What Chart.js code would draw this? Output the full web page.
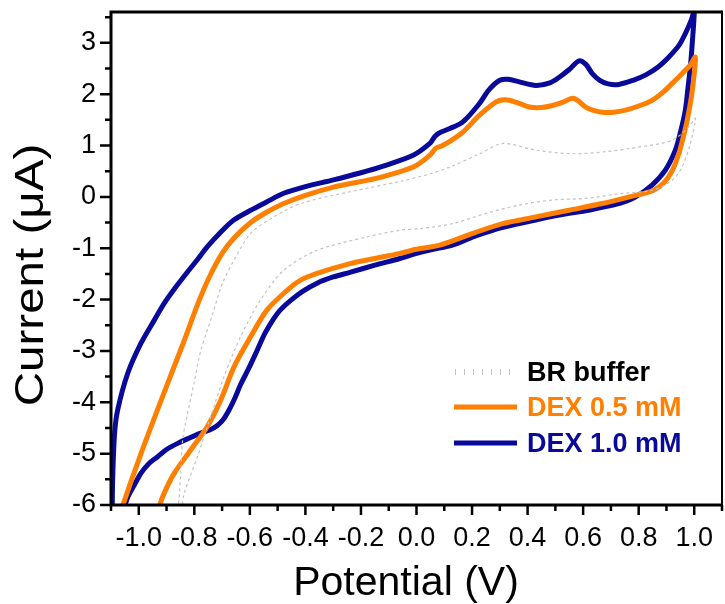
<!DOCTYPE html>
<html>
<head>
<meta charset="utf-8">
<title>Cyclic voltammetry of DEX</title>
<script src="https://cdn.jsdelivr.net/npm/chart.js@4.4.1/dist/chart.umd.min.js"></script>
<style>
    html, body { margin: 0; padding: 0; background: #ffffff; }
    #wrap { width: 725px; height: 604px; }
</style>
</head>
<body>
<div id="wrap"><canvas id="cvChart" width="725" height="604"></canvas></div>
<script>
// Cyclic voltammograms: BR buffer blank, DEX 0.5 mM and DEX 1.0 mM

// BR buffer (forward sweep, then reverse sweep)
const bufferPotential = [
    -0.86, -0.85, -0.842, -0.824, -0.80, -0.777, -0.735, -0.70, -0.657, -0.597,
    -0.514, -0.418, -0.239, -0.06, 0.05, 0.12, 0.227, 0.31, 0.43, 0.561,
    0.681, 0.8, 0.92, 0.98, 1.004,
    0.986, 0.956, 0.92, 0.848, 0.729, 0.609, 0.49, 0.37, 0.251, 0.131,
    0.012, -0.06, -0.179, -0.358, -0.478, -0.562, -0.633, -0.693, -0.741, -0.789,
    -0.836, -0.85
];
const bufferCurrent = [
    -6.2, -5.5, -4.73, -4.21, -3.6, -3.0, -2.3, -1.7, -1.23, -0.71,
    -0.39, -0.13, 0.1, 0.3, 0.45, 0.58, 0.84, 1.04, 0.91, 0.84,
    0.88, 0.97, 1.1, 1.36, 1.53,
    1.04, 0.58, 0.32, 0.13, 0.06, -0.03, -0.06, -0.16, -0.32, -0.52,
    -0.62, -0.65, -0.78, -1.04, -1.43, -2.01, -2.72, -3.5, -4.28, -5.06,
    -5.77, -6.2
];

// DEX 0.5 mM
const dex05Potential = [
    -1.07, -1.057, -0.992, -0.896, -0.84, -0.785, -0.745, -0.70, -0.657, -0.597,
    -0.54, -0.478, -0.40, -0.299, -0.2, -0.13, -0.012, 0.048, 0.07, 0.09,
    0.12, 0.167, 0.227, 0.287, 0.32, 0.36, 0.406, 0.45, 0.49, 0.53,
    0.561, 0.58, 0.609, 0.64, 0.669, 0.71, 0.753, 0.8, 0.848, 0.89,
    0.932, 0.965, 0.985, 1.004,
    0.998, 0.99, 0.975, 0.96, 0.945, 0.92, 0.89, 0.85, 0.789, 0.669,
    0.549, 0.43, 0.31, 0.203, 0.084, 0.0, -0.06, -0.15, -0.239, -0.358,
    -0.42, -0.466, -0.538, -0.597, -0.657, -0.705, -0.753, -0.813, -0.872, -0.914,
    -0.935
];
const dex05Current = [
    -6.25, -6.0, -5.0, -3.63, -2.85, -2.05, -1.55, -1.1, -0.8, -0.5,
    -0.3, -0.13, 0.03, 0.19, 0.3, 0.38, 0.58, 0.81, 0.95, 0.99,
    1.08, 1.26, 1.59, 1.85, 1.89, 1.84, 1.75, 1.74, 1.78, 1.85,
    1.92, 1.88, 1.75, 1.68, 1.65, 1.65, 1.69, 1.77, 1.88, 2.05,
    2.27, 2.45, 2.56, 2.72,
    2.3, 1.95, 1.5, 1.15, 0.85, 0.5, 0.27, 0.12, 0.03, -0.13,
    -0.26, -0.39, -0.52, -0.71, -0.94, -1.02, -1.1, -1.2, -1.3, -1.49,
    -1.63, -1.82, -2.2, -2.72, -3.31, -3.96, -4.47, -4.93, -5.38, -5.84,
    -6.2
];

// DEX 1.0 mM
const dex10Potential = [
    -1.096, -1.094, -1.087, -1.076, -1.04, -0.992, -0.944, -0.908, -0.87, -0.83,
    -0.79, -0.753, -0.70, -0.658, -0.597, -0.54, -0.478, -0.40, -0.299, -0.2,
    -0.12, -0.012, 0.048, 0.065, 0.08, 0.12, 0.167, 0.227, 0.26, 0.30,
    0.33, 0.37, 0.43, 0.48, 0.514, 0.55, 0.585, 0.61, 0.633, 0.66,
    0.69, 0.729, 0.78, 0.824, 0.87, 0.908, 0.945, 0.968, 0.99, 1.0,
    0.993, 0.986, 0.977, 0.968, 0.95, 0.932, 0.896, 0.848, 0.789, 0.74,
    0.681, 0.62, 0.55, 0.49, 0.43, 0.346, 0.274, 0.203, 0.15, 0.108,
    0.06, 0.0, -0.06, -0.15, -0.24, -0.30, -0.358, -0.41, -0.454, -0.49,
    -0.514, -0.545, -0.573, -0.605, -0.633, -0.655, -0.675, -0.695, -0.717, -0.745,
    -0.777, -0.82, -0.86, -0.9, -0.932, -0.965, -0.992, -1.015, -1.039, -1.055,
    -1.065
];
const dex10Current = [
    -6.3, -5.5, -4.6, -4.15, -3.44, -2.85, -2.4, -2.07, -1.78, -1.5,
    -1.23, -0.97, -0.66, -0.45, -0.26, -0.1, 0.07, 0.2, 0.33, 0.47,
    0.6, 0.81, 1.04, 1.17, 1.24, 1.33, 1.46, 1.82, 2.08, 2.27,
    2.29, 2.24, 2.17, 2.22, 2.33, 2.48, 2.65, 2.58, 2.4, 2.27,
    2.2, 2.19, 2.27, 2.37, 2.53, 2.72, 2.95, 3.18, 3.45, 3.62,
    3.0, 2.53, 2.1, 1.69, 1.25, 0.91, 0.52, 0.23, 0.0, -0.11,
    -0.19, -0.26, -0.32, -0.38, -0.45, -0.55, -0.65, -0.78, -0.9, -0.97,
    -1.02, -1.1, -1.2, -1.33, -1.47, -1.56, -1.68, -1.84, -2.02, -2.2,
    -2.37, -2.65, -2.98, -3.35, -3.65, -3.93, -4.15, -4.33, -4.45, -4.54,
    -4.6, -4.7, -4.8, -4.92, -5.06, -5.2, -5.38, -5.6, -5.84, -6.1,
    -6.3
];

const seriesLabels = ['BR buffer', 'DEX 0.5 mM', 'DEX 1.0 mM'];

// axis ticks
const potentialTicks = [-1.0, -0.8, -0.6, -0.4, -0.2, 0.0, 0.2, 0.4, 0.6, 0.8, 1.0];
const potentialMinorTicks = [-1.1, -0.9, -0.7, -0.5, -0.3, -0.1, 0.1, 0.3, 0.5, 0.7, 0.9, 1.1];
const currentTicks = [-6, -5, -4, -3, -2, -1, 0, 1, 2, 3];
const currentMinorTicks = [-5.5, -4.5, -3.5, -2.5, -1.5, -0.5, 0.5, 1.5, 2.5, 3.5];

const FONT = "'Liberation Sans', Arial, Helvetica, sans-serif";
const NAVY = '#0a0a9a';
const ORANGE = '#ff7f00';
const GREY = '#c2c2c2';

function toPoints(xs, ys) {
    return xs.map((x, k) => ({ x: x, y: ys[k] }));
}

// tick marks pointing outward, majors longer than minors
const tickMarks = {
    id: 'tickMarks',
    afterDraw(chart) {
        const { ctx, chartArea, scales } = chart;
        ctx.save();
        ctx.strokeStyle = '#000';
        ctx.lineWidth = 2.5;
        ctx.beginPath();
        const xTick = (v, len) => {
            const px = scales.x.getPixelForValue(v);
            ctx.moveTo(px, chartArea.bottom);
            ctx.lineTo(px, chartArea.bottom + len);
        };
        const yTick = (v, len) => {
            const py = scales.y.getPixelForValue(v);
            ctx.moveTo(chartArea.left, py);
            ctx.lineTo(chartArea.left - len, py);
        };
        potentialTicks.forEach(v => xTick(v, 10));
        potentialMinorTicks.forEach(v => xTick(v, 6));
        currentTicks.forEach(v => yTick(v, 11));
        currentMinorTicks.forEach(v => yTick(v, 6));
        ctx.stroke();
        ctx.restore();
    }
};

// box around the plot area
const plotFrame = {
    id: 'plotFrame',
    afterDatasetsDraw(chart) {
        const { ctx, chartArea: a } = chart;
        ctx.save();
        ctx.strokeStyle = '#000';
        ctx.lineWidth = 3;
        ctx.beginPath();
        ctx.moveTo(a.right, a.top);
        ctx.lineTo(a.left, a.top);
        ctx.lineTo(a.left, a.bottom);
        ctx.lineTo(a.right, a.bottom);
        ctx.stroke();
        ctx.lineWidth = 2;
        ctx.beginPath();
        ctx.moveTo(a.right, a.top - 1.5);
        ctx.lineTo(a.right, a.bottom + 1.5);
        ctx.stroke();
        ctx.restore();
    }
};

// axis titles
const axisTitles = {
    id: 'axisTitles',
    afterDraw(chart) {
        const { ctx } = chart;
        ctx.save();
        ctx.fillStyle = '#000';
        ctx.textBaseline = 'alphabetic';
        ctx.textAlign = 'center';
        ctx.font = '41px ' + FONT;
        ctx.fillText('Potential (V)', 406, 595);

        ctx.translate(43, 275);
        ctx.rotate(-Math.PI / 2);
        ctx.scale(1.16, 1);
        ctx.fillText('Current (\u03bcA)', 0, 0);
        ctx.restore();
    }
};

// legend sitting inside the plot, bottom right
const insideLegend = {
    id: 'insideLegend',
    afterDraw(chart) {
        const { ctx } = chart;
        const rowY = [372, 407, 443];
        const lineX0 = 454, lineX1 = 517, textX = 527;
        ctx.save();
        ctx.font = 'bold 27px ' + FONT;
        ctx.textBaseline = 'middle';
        ctx.textAlign = 'left';
        chart.data.datasets.forEach((ds, k) => {
            const y = rowY[k];
            ctx.strokeStyle = ds.borderColor;
            if (ds.borderDash && ds.borderDash.length) {
                ctx.lineWidth = 1;
                ctx.beginPath();
                for (let x = lineX0 + 1; x <= lineX1; x += 9) {
                    ctx.moveTo(x + 0.5, y - 3);
                    ctx.lineTo(x + 0.5, y + 3);
                }
                ctx.stroke();
            } else {
                ctx.lineWidth = ds.borderWidth;
                ctx.beginPath();
                ctx.moveTo(lineX0, y);
                ctx.lineTo(lineX1, y);
                ctx.stroke();
            }
            ctx.fillStyle = k === 0 ? '#000' : ds.borderColor;
            ctx.fillText(ds.label, textX, y + 2);
        });
        ctx.restore();
    }
};

Chart.defaults.font.family = FONT;
Chart.defaults.color = '#000';

const ctx = document.getElementById('cvChart').getContext('2d');
const cvChart = new Chart(ctx, {
    type: 'scatter',
    data: {
        datasets: [
            {
                label: seriesLabels[0],
                data: toPoints(bufferPotential, bufferCurrent),
                borderColor: GREY,
                borderWidth: 1.2,
                borderDash: [3, 3]
            },
            {
                label: seriesLabels[1],
                data: toPoints(dex05Potential, dex05Current),
                borderColor: ORANGE,
                borderWidth: 5
            },
            {
                label: seriesLabels[2],
                data: toPoints(dex10Potential, dex10Current),
                borderColor: NAVY,
                borderWidth: 5
            }
        ].map(ds => Object.assign(ds, {
            showLine: true,
            pointRadius: 0,
            pointHoverRadius: 0,
            tension: 0.3,
            fill: false,
            clip: 0
        }))
    },
    options: {
        responsive: false,
        animation: false,
        events: [],
        layout: { padding: { top: 12, right: 3, left: 0, bottom: 0 } },
        plugins: {
            legend: { display: false },
            tooltip: { enabled: false }
        },
        scales: {
            x: {
                type: 'linear',
                min: -1.1,
                max: 1.1,
                afterBuildTicks: scale => {
                    scale.ticks = potentialTicks.map(v => ({ value: v }));
                },
                afterFit: scale => {
                    scale.height = 99;
                    scale.paddingLeft = 0;
                    scale.paddingRight = 0;
                },
                grid: { display: false, drawTicks: false },
                border: { display: false },
                ticks: {
                    autoSkip: false,
                    maxRotation: 0,
                    padding: 17,
                    font: { size: 27 },
                    callback: v => v.toFixed(1)
                }
            },
            y: {
                type: 'linear',
                min: -6,
                max: 3.6,
                afterBuildTicks: scale => {
                    scale.ticks = currentTicks.map(v => ({ value: v }));
                },
                afterFit: scale => {
                    scale.width = 111;
                    scale.paddingTop = 0;
                    scale.paddingBottom = 0;
                },
                grid: { display: false, drawTicks: false },
                border: { display: false },
                ticks: {
                    autoSkip: false,
                    padding: 15,
                    font: { size: 27 },
                    callback: v => String(v)
                }
            }
        }
    },
    plugins: [plotFrame, tickMarks, axisTitles, insideLegend]
});
</script>
</body>
</html>
